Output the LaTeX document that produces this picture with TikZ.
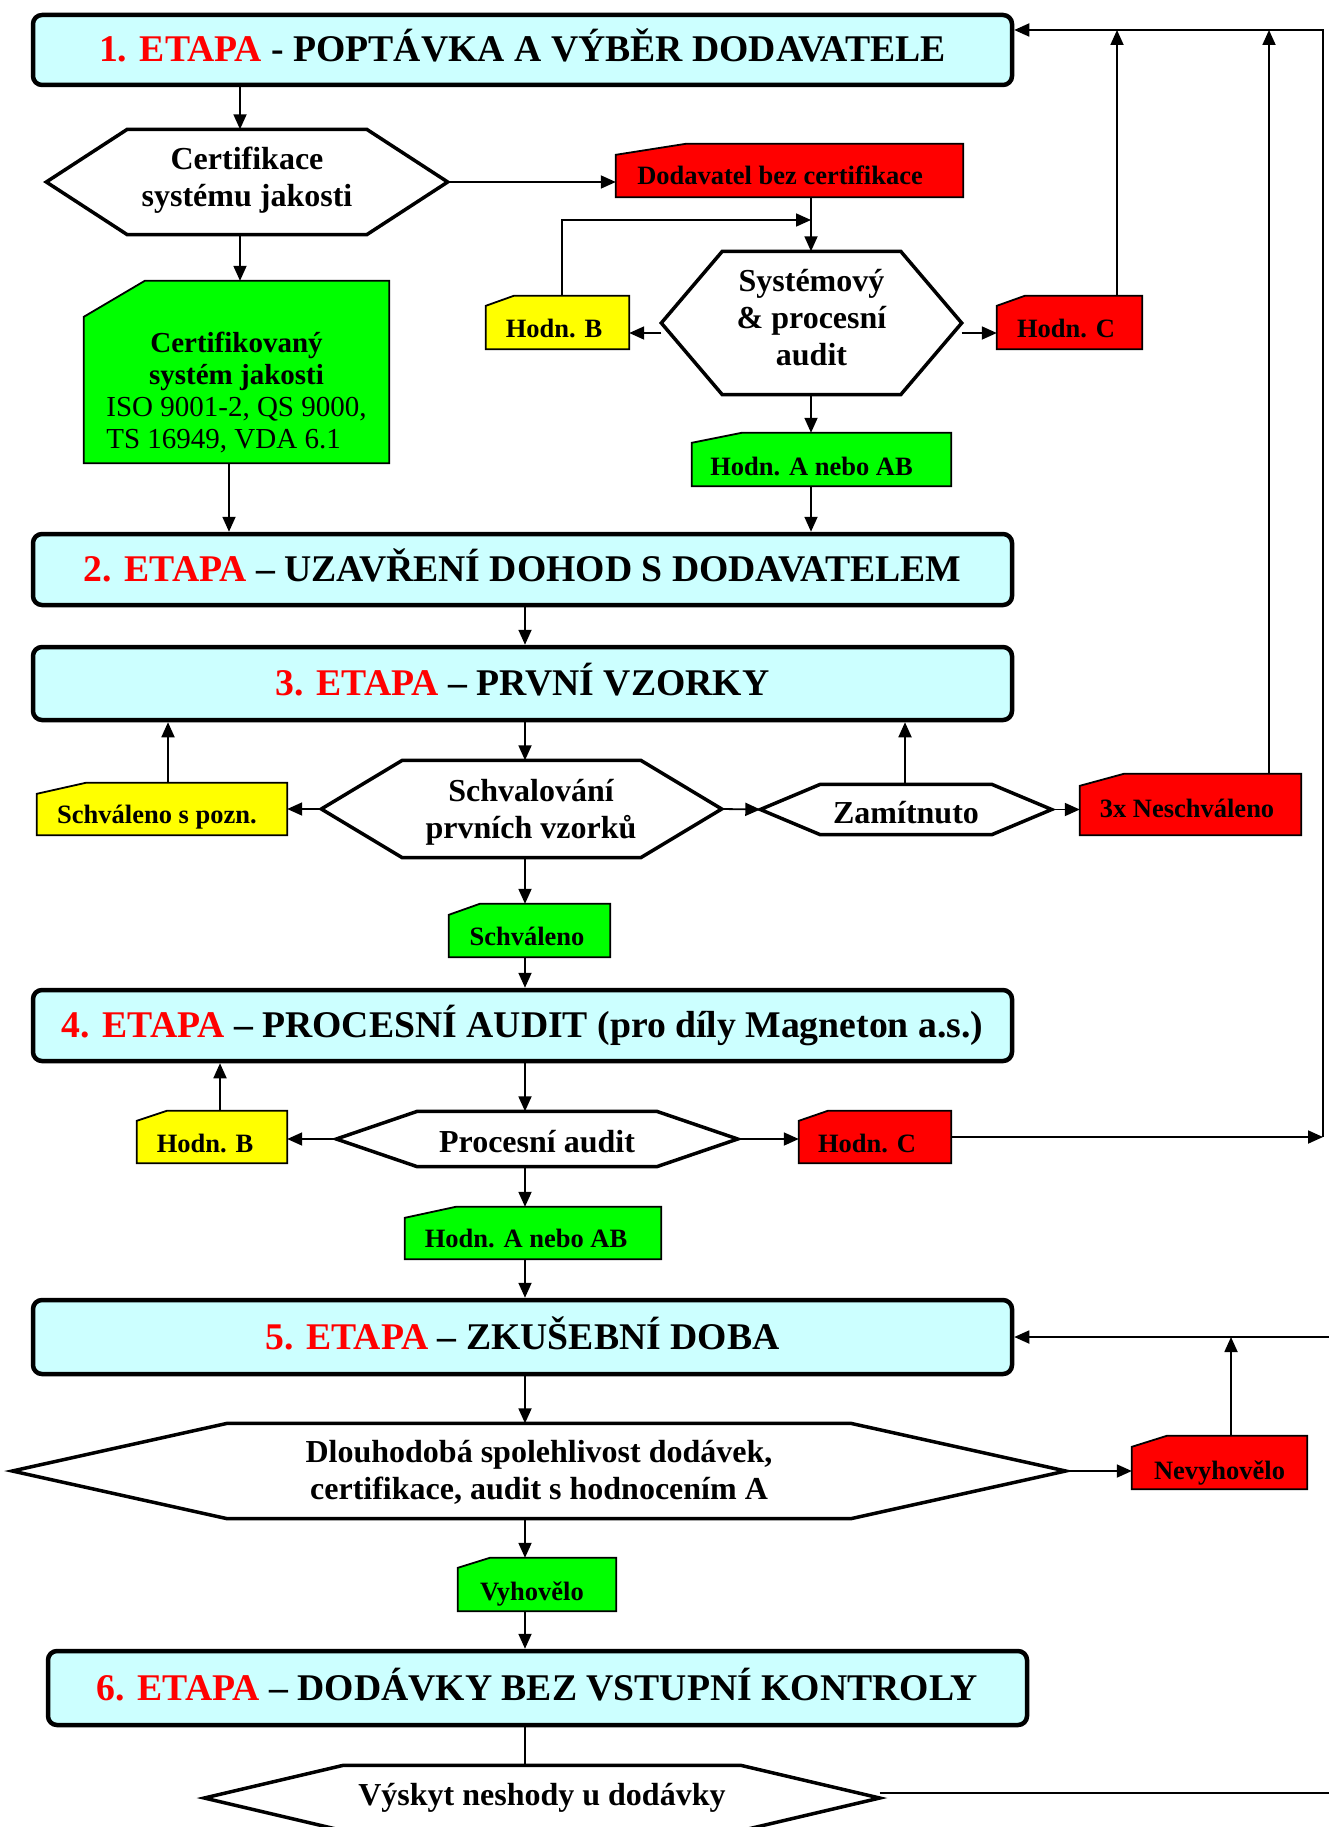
\documentclass[tikz,border=0pt]{standalone}
\usepackage{fontspec}
\setmainfont{Liberation Serif}
\usetikzlibrary{arrows.meta,backgrounds}
\definecolor{stcyan}{HTML}{CCFFFF}
\definecolor{cred}{HTML}{FF0000}
\definecolor{cgreen}{HTML}{00FF00}
\definecolor{cyellow}{HTML}{FFFF00}
\tikzset{
  stagebox/.style={draw, line width=4.5pt, rounded corners=9pt, fill=stcyan, inner sep=0pt,
    text height=24pt, text depth=0pt, font=\fontsize{37.7}{42}\selectfont\bfseries},
  hexnode/.style={inner sep=0pt, text depth=0pt, font=\fontsize{32}{37}\selectfont\bfseries},
  cardnode/.style={inner sep=0pt, text depth=0pt, font=\fontsize{26.5}{30}\selectfont\bfseries},
  hexline/.style={draw=black, fill=white, line width=3.5pt, line join=miter},
  cardline/.style={draw=black, line width=1.8pt, line join=miter},
  arr/.style={-{Triangle[length=15pt,width=13pt]}, line width=1.8pt},
  thinline/.style={line width=1.8pt},
  tl/.style={execute at end node={\hspace*{#1}}},
  tr/.style={execute at begin node={\hspace*{#1}}}
}
\newcommand\hexshape[2]{\filldraw[hexline] (#1.west) -- ([xshift=#2]#1.north west) -- ([xshift=-#2]#1.north east) -- (#1.east) -- ([xshift=-#2]#1.south east) -- ([xshift=#2]#1.south west) -- cycle;}
\newcommand\cardshape[4]{\filldraw[cardline, fill=#2] (#1.south west) -- ([yshift=-#4]#1.north west) -- ([xshift=#3]#1.north west) -- (#1.north east) -- (#1.south east) -- cycle;}
\begin{document}
\begin{tikzpicture}[x=1pt,y=-1pt]
\useasboundingbox (0,0) rectangle (1329,1827);

% helper columns / rows
\coordinate (ytop) at (0,30);
\coordinate (x240) at (240,0);
\coordinate (x229) at (229,0);
\coordinate (x811) at (811,0);
\coordinate (x525) at (525,0);
\coordinate (x168) at (168,0);
\coordinate (x905) at (905,0);
\coordinate (x220) at (220,0);
\coordinate (x1117) at (1117,0);
\coordinate (x1269) at (1269,0);
\coordinate (x1323) at (1323,0);
\coordinate (x1231) at (1231,0);
\coordinate (x562) at (562,0);
\coordinate (j1) at (811,220);
\coordinate (redge5) at (1329,1337);
\coordinate (redge6) at (1329,1793);

% stage boxes
\node[stagebox, minimum width=979pt, minimum height=70pt] (st1) at (522.5,50)
  {{\color{cred}1. ETAPA} - POPTÁVKA A VÝBĚR DODAVATELE};
\node[stagebox, minimum width=979pt, minimum height=71pt] (st2) at (522.5,569.5)
  {{\color{cred}2. ETAPA} – UZAVŘENÍ DOHOD S DODAVATELEM};
\node[stagebox, minimum width=979pt, minimum height=73pt] (st3) at (522.5,683.5)
  {{\color{cred}3. ETAPA} – PRVNÍ VZORKY};
\node[stagebox, minimum width=979pt, minimum height=71pt] (st4) at (522.5,1025.5)
  {{\color{cred}4. ETAPA} – PROCESNÍ AUDIT (pro díly Magneton a.s.)};
\node[stagebox, minimum width=979pt, minimum height=74pt] (st5) at (522.5,1337)
  {{\color{cred}5. ETAPA} – ZKUŠEBNÍ DOBA};
\node[stagebox, minimum width=979pt, minimum height=74pt] (st6) at (537.5,1688)
  {{\color{cred}6. ETAPA} – DODÁVKY BEZ VSTUPNÍ KONTROLY};

% hexagon nodes
\node[hexnode, minimum width=401pt, minimum height=105pt, text height=50pt] (cert) at (247,182)
  {\begin{tabular}[b]{@{}c@{}}Certifikace\\systému jakosti\end{tabular}};
\node[hexnode, minimum width=300pt, minimum height=143pt, text height=84pt] (sys) at (811.5,323)
  {\begin{tabular}[b]{@{}c@{}}Systémový\\\& procesní\\audit\end{tabular}};
\node[hexnode, tr=19pt, minimum width=400pt, minimum height=97pt, text height=58pt] (schv) at (521.5,809)
  {\begin{tabular}[b]{@{}c@{}}Schvalování\\prvních vzorků\end{tabular}};
\node[hexnode, minimum width=291pt, minimum height=50pt, text height=27pt] (zam) at (906,809.5) {Zamítnuto};
\node[hexnode, minimum width=401pt, minimum height=55pt, text height=26pt] (proc) at (537,1139) {Procesní audit};
\node[hexnode, minimum width=1053pt, minimum height=95pt, text height=56pt] (dl) at (539,1471)
  {\begin{tabular}[b]{@{}c@{}}Dlouhodobá spolehlivost dodávek,\\certifikace, audit s hodnocením A\end{tabular}};
\node[hexnode, minimum width=675pt, minimum height=65pt, text height=14pt] (vy) at (542,1798) {Výskyt neshody u dodávky};

% card nodes
\node[cardnode, tl=19pt, minimum width=347pt, minimum height=53pt, text height=29pt] (dod) at (789.5,170.5) {Dodavatel bez certifikace};
\node[cardnode, tl=7pt, minimum width=143pt, minimum height=53pt, text height=29pt] (hb1) at (557.5,322.5) {Hodn. B};
\node[cardnode, tl=7pt, minimum width=145pt, minimum height=53pt, text height=29pt] (hc1) at (1069.5,322.5) {Hodn. C};
\node[cardnode, minimum width=305pt, minimum height=182pt, text height=152pt, font=\fontsize{29}{32}\selectfont\bfseries] (gc) at (236.5,372)
  {\begin{tabular}[b]{@{}c@{}}Certifikovaný\\systém jakosti\\\mdseries ISO 9001-2, QS 9000,\\\mdseries\makebox[0pt][l]{TS 16949, VDA 6.1}\phantom{ISO 9001-2, QS 9000,}\end{tabular}};
\node[cardnode, tl=20pt, minimum width=259pt, minimum height=53pt, text height=31pt] (ha1) at (821.5,459.5) {Hodn. A nebo AB};
\node[cardnode, tl=10pt, minimum width=250pt, minimum height=52pt, text height=28pt] (sp) at (162,809) {Schváleno s pozn.};
\node[cardnode, tl=7pt, minimum width=221pt, minimum height=61pt, text height=25pt] (nes) at (1190.5,804.5) {3x Neschváleno};
\node[cardnode, tl=5pt, minimum width=161pt, minimum height=53pt, text height=29pt] (sch) at (529.5,930.5) {Schváleno};
\node[cardnode, tl=14pt, minimum width=150pt, minimum height=52pt, text height=30pt] (hb4) at (212,1137) {Hodn. B};
\node[cardnode, tl=16pt, minimum width=152pt, minimum height=52pt, text height=30pt] (hc4) at (875,1137) {Hodn. C};
\node[cardnode, tl=14pt, minimum width=256pt, minimum height=52pt, text height=28pt] (ha4) at (533,1233) {Hodn. A nebo AB};
\node[cardnode, minimum width=175pt, minimum height=53pt, text height=33pt] (nev) at (1219.5,1462.5) {Nevyhovělo};
\node[cardnode, tl=10pt, minimum width=158pt, minimum height=53pt, text height=31pt] (vyh) at (537,1584.5) {Vyhovělo};

% shapes behind the texts
\begin{scope}[on background layer]
  \fill[white] (0,0) rectangle (1329,1827);
  \hexshape{cert}{81pt}
  \hexshape{sys}{61pt}
  \hexshape{schv}{81pt}
  \hexshape{zam}{60pt}
  \hexshape{proc}{81pt}
  \hexshape{dl}{215pt}
  \hexshape{vy}{139pt}
  \cardshape{dod}{cred}{70pt}{11pt}
  \cardshape{hb1}{cyellow}{28pt}{10pt}
  \cardshape{hc1}{cred}{28pt}{10pt}
  \cardshape{gc}{cgreen}{61pt}{36pt}
  \cardshape{ha1}{cgreen}{50pt}{10pt}
  \cardshape{sp}{cyellow}{49pt}{11pt}
  \cardshape{nes}{cred}{44pt}{12pt}
  \cardshape{sch}{cgreen}{31pt}{11pt}
  \cardshape{hb4}{cyellow}{30pt}{10pt}
  \cardshape{hc4}{cred}{29pt}{10pt}
  \cardshape{ha4}{cgreen}{51pt}{11pt}
  \cardshape{nev}{cred}{35pt}{11pt}
  \cardshape{vyh}{cgreen}{32pt}{10pt}
\end{scope}

% connectors - stage 1 part
\draw[arr] (x240 |- st1.south) -- (x240 |- cert.north);
\draw[arr] (x240 |- cert.south) -- (x240 |- gc.north);
\draw[arr] (x229 |- gc.south) -- (x229 |- st2.north);
\draw[arr] (cert.east) -- (dod.west |- cert.east);
\draw[arr] (x811 |- dod.south) -- (x811 |- sys.north);
\draw[arr] (x562 |- hb1.north) |- (j1);
\coordinate (sysL) at ([yshift=-10pt]sys.west);
\coordinate (sysR) at ([yshift=-10pt]sys.east);
\draw[arr] (sysL) -- (hb1.east |- sysL);
\draw[arr] (sysR) -- (hc1.west |- sysR);
\draw[arr] (x811 |- sys.south) -- (x811 |- ha1.north);
\draw[arr] (x811 |- ha1.south) -- (x811 |- st2.north);
\draw[arr] (x1117 |- hc1.north) -- (x1117 |- ytop);
\draw[arr] (x1269 |- nes.north) -- (x1269 |- ytop);
\draw[arr] (hc4.east) -- (x1323 |- hc4.east);
\draw[arr, line join=miter] (x1323 |- hc4.east) -- (x1323 |- ytop) -- (st1.east |- ytop);

% stage 2-3
\draw[arr] (x525 |- st2.south) -- (x525 |- st3.north);
\draw[arr] (x525 |- st3.south) -- (x525 |- schv.north);
\draw[arr] (schv.west) -- (sp.east |- schv.west);
\draw[arr] (x168 |- sp.north) -- (x168 |- st3.south);
\draw[arr] (schv.east) -- (zam.west);
\draw[arr] (x905 |- zam.north) -- (x905 |- st3.south);
\draw[arr] (zam.east) -- (nes.west |- zam.east);
\draw[arr] (x525 |- schv.south) -- (x525 |- sch.north);
\draw[arr] (x525 |- sch.south) -- (x525 |- st4.north);

% stage 4
\draw[arr] (x525 |- st4.south) -- (x525 |- proc.north);
\draw[arr] (proc.west) -- (hb4.east |- proc.west);
\draw[arr] (x220 |- hb4.north) -- (x220 |- st4.south);
\draw[arr] (proc.east) -- (hc4.west |- proc.east);
\draw[arr] (x525 |- proc.south) -- (x525 |- ha4.north);
\draw[arr] (x525 |- ha4.south) -- (x525 |- st5.north);

% stage 5-6
\draw[arr] (x525 |- st5.south) -- (x525 |- dl.north);
\draw[arr] (dl.east) -- (nev.west |- dl.east);
\draw[arr] (x1231 |- nev.north) -- (x1231 |- st5.east);
\draw[arr] (redge5) -- (st5.east);
\draw[arr] (x525 |- dl.south) -- (x525 |- vyh.north);
\draw[arr] (x525 |- vyh.south) -- (x525 |- st6.north);
\draw[thinline] (x525 |- st6.south) -- (x525 |- vy.north);
\draw[thinline] (vy.east |- redge6) -- (redge6);
\end{tikzpicture}
\end{document}
